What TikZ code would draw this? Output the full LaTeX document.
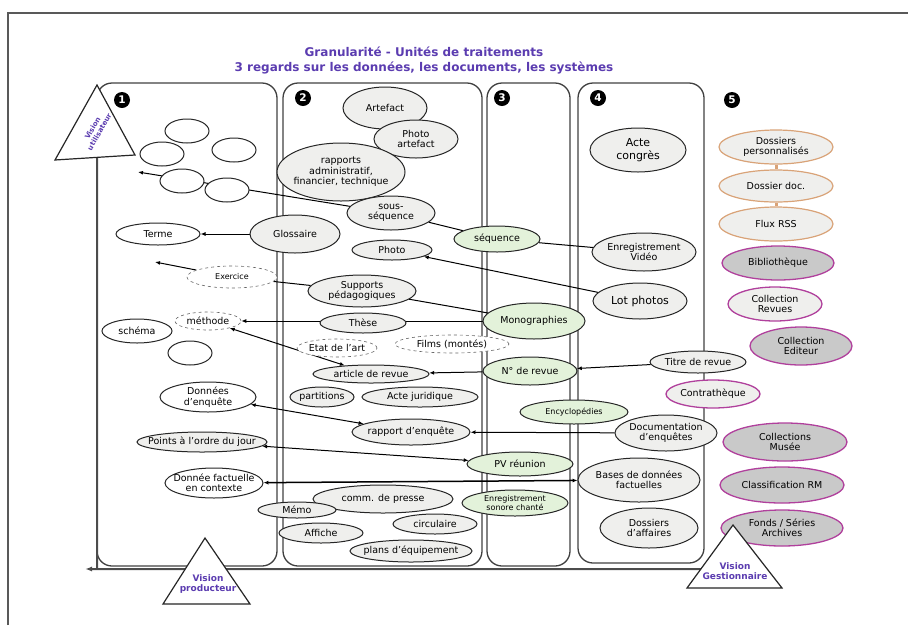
\documentclass[tikz,border=0pt]{standalone}
\usepackage{fontspec}
\setmainfont{DejaVu Sans}
\usetikzlibrary{arrows.meta}
\usetikzlibrary{shapes.geometric}
\pgfdeclarelayer{bg}
\pgfsetlayers{bg,main}
\definecolor{titleviolet}{HTML}{5B3CB0}
\definecolor{docgray}{HTML}{EFEFED}
\definecolor{greenfill}{HTML}{E3F2DA}
\definecolor{orangeline}{HTML}{D9A378}
\definecolor{magline}{HTML}{B0409C}
\definecolor{grayfill}{HTML}{C9C9C9}

\tikzset{
  colbox/.style={draw=black!75, line width=1.3pt, rounded corners=15pt},
  axisline/.style={draw=black!70, line width=2pt},
  tri/.style={draw=black!85, line width=1.2pt, fill=white},
  num/.style={circle, fill=black, text=white, minimum size=16pt, inner sep=0pt, font=\fontsize{10.5}{10.5}\selectfont\bfseries},
  txt/.style={font=\fontsize{9.5}{10.5}\selectfont, align=center, inner sep=0pt},
  vis/.style={font=\fontsize{9}{10}\selectfont\bfseries, text=titleviolet, align=center, inner sep=0pt},
  ttl/.style={font=\fontsize{12}{13}\selectfont\bfseries, text=titleviolet},
  sz/.style 2 args={minimum width=#1pt, minimum height=#2pt},
  lb/.style={label={[txt]center:{#1}}},
  lbbig/.style={label={[txt, font=\fontsize{11}{12.5}\selectfont]center:{#1}}},
  lbsmall/.style={label={[txt, font=\fontsize{8}{9}\selectfont]center:{#1}}},
  el/.style={ellipse, draw=black!85, line width=1pt, fill=docgray, inner sep=0pt},
  blank/.style={el, fill=white},
  dashel/.style={el, fill=white, draw=black!60, dashed, line width=0.6pt},
  grn/.style={el, fill=greenfill},
  orng/.style={el, draw=orangeline, line width=1.2pt},
  mag/.style={el, draw=magline, fill=grayfill, line width=1.3pt},
  magl/.style={mag, fill=docgray},
  conn/.style={draw=black, line width=1pt},
  toarr/.style={-{Latex[length=5pt,width=4pt]}},
  botharr/.style={{Latex[length=5pt,width=4pt]}-{Latex[length=5pt,width=4pt]}},
}

\begin{document}
\begin{tikzpicture}[x=1pt,y=-1pt]
  \useasboundingbox (0,0) rectangle (908,625);

  % frame
  \draw[draw=black!65, line width=1.5pt] (8,625) -- (8,13) -- (908,13);

  \node[ttl] (title1) at (424,52) {Granularité - Unités de traitements};
  \node[ttl] (title2) at (424,68) {3 regards sur les données, les documents, les systèmes};

  % column 1
  \node[blank, sz={44}{24}] (e1) at (187,131) {};
  \node[blank, sz={44}{24}] (e2) at (162,154) {};
  \node[blank, sz={44}{24}] (e3) at (234,150) {};
  \node[blank, sz={44}{24}] (e4) at (182,181) {};
  \node[blank, sz={44}{24}] (e5) at (227,190) {};
  \node[blank, sz={84}{22}, lb={Terme}] (terme) at (158,234) {};
  \node[el, sz={90}{38}, lb={Glossaire}] (gloss) at (295,234) {};
  \node[dashel, sz={90}{22}, lbsmall={Exercice}] (exerc) at (232,277) {};
  \node[dashel, sz={66}{18}, lb={méthode}] (methode) at (208,321) {};
  \node[blank, sz={70}{24}, lb={schéma}] (schema) at (137,331) {};
  \node[blank, sz={44}{24}] (e6) at (190,353) {};
  \node[blank, sz={96}{30}, lb={Données\\d'enquête}] (donenq) at (208,397) {};
  \node[el, sz={130}{20}, lb={Points à l'ordre du jour}] (points) at (202,442) {};
  \node[blank, sz={98}{30}, lb={Donnée factuelle\\en contexte}] (donfact) at (214,483) {};

  % column 2
  \node[el, sz={84}{42}, lb={Artefact}] (artefact) at (385,108) {};
  \node[el, sz={84}{38}, lb={Photo\\artefact}] (photoart) at (416,139) {};
  \node[el, sz={128}{58}, lb={rapports\\administratif,\\financier, technique}] (rapadm) at (341,172) {};
  \node[el, sz={88}{34}, lb={sous-\\séquence}] (sousseq) at (391,213) {};
  \node[el, sz={80}{20}, lb={Photo}] (photo) at (392,250) {};
  \node[el, sz={108}{32}, lb={Supports\\pédagogiques}] (supports) at (362,291) {};
  \node[el, sz={86}{20}, lb={Thèse}] (these) at (363,323) {};
  \node[dashel, sz={80}{18}, lb={Etat de l'art}] (etat) at (337,348) {};
  \node[dashel, sz={114}{18}, lb={Films (montés)}] (films) at (452,344) {};
  \node[el, sz={116}{18}, lb={article de revue}] (article) at (371,374) {};
  \node[el, sz={64}{20}, lb={partitions}] (partitions) at (322,397) {};
  \node[el, sz={116}{20}, lb={Acte juridique}] (actejur) at (420,397) {};
  \node[el, sz={118}{26}, lb={rapport d'enquête}] (rapenq) at (411,432) {};
  \node[el, sz={140}{28}, lb={comm. de presse}] (comm) at (383,499) {};
  \node[el, sz={78}{16}, lb={Mémo}] (memo) at (297,510) {};
  \node[el, sz={84}{20}, lb={circulaire}] (circ) at (435,524) {};
  \node[el, sz={84}{20}, lb={Affiche}] (affiche) at (321,533) {};
  \node[el, sz={122}{22}, lb={plans d'équipement}] (plans) at (411,551) {};

  % column 3
  \node[grn, sz={86}{26}, lb={séquence}] (seq) at (497,239) {};
  \node[grn, sz={102}{36}, lb={Monographies}] (mono) at (534,321) {};
  \node[grn, sz={94}{28}, lb={N° de revue}] (numrev) at (530,371) {};
  \node[grn, sz={108}{24}, lbsmall={Encyclopédies}] (encyc) at (574,412) {};
  \node[grn, sz={106}{24}, lb={PV réunion}] (pv) at (520,464) {};
  \node[grn, sz={106}{26}, lbsmall={Enregistrement\\sonore chanté}] (enrson) at (515,503) {};

  % column 4
  \node[el, sz={96}{44}, lbbig={Acte\\congrès}] (acte) at (638,150) {};
  \node[el, sz={104}{38}, lb={Enregistrement\\Vidéo}] (ev) at (644,252) {};
  \node[el, sz={94}{36}, lbbig={Lot photos}] (lot) at (640,301) {};
  \node[el, sz={96}{22}, lb={Titre de revue}] (titre) at (698,362) {};
  \node[el, sz={102}{36}, lb={Documentation\\d'enquêtes}] (docenq) at (666,433) {};
  \node[el, sz={122}{44}, lb={Bases de données\\factuelles}] (bases) at (639,480) {};
  \node[el, sz={98}{40}, lb={Dossiers\\d'affaires}] (dossaff) at (649,528) {};

  % column 5
  \node[orng, sz={114}{34}, lb={Dossiers\\personnalisés}] (dperso) at (776,147) {};
  \node[orng, sz={114}{32}, lb={Dossier doc.}] (ddoc) at (776,186) {};
  \node[orng, sz={114}{34}, lb={Flux RSS}] (rss) at (776,224) {};
  \node[mag, sz={112}{34}, lb={Bibliothèque}] (biblio) at (778,263) {};
  \node[magl, sz={94}{34}, lb={Collection\\Revues}] (colrev) at (775,304) {};
  \node[mag, sz={102}{38}, lb={Collection\\Editeur}] (coled) at (801,346) {};
  \node[magl, sz={94}{28}, lb={Contrathèque}] (contra) at (713,394) {};
  \node[mag, sz={124}{38}, lb={Collections\\Musée}] (colmus) at (785,442) {};
  \node[mag, sz={124}{36}, lb={Classification RM}] (classrm) at (782,485) {};
  \node[mag, sz={122}{36}, lb={Fonds / Séries\\Archives}] (fonds) at (782,528) {};

  % numbers
  \node[num] (n1) at (122,100) {1};
  \node[num] (n2) at (303,98) {2};
  \node[num] (n3) at (502,98) {3};
  \node[num] (n4) at (598,98) {4};
  \node[num] (n5) at (732,100) {5};

  % visions
  \draw[tri] (97,85) coordinate (ua) -- (55,160) coordinate (ub) -- (135,155) coordinate (uc) -- cycle;
  \node[vis, rotate=60, font=\fontsize{7}{8}\selectfont\bfseries] (visu) at (96,130) {Vision\\utilisateur};
  \draw[tri] (205,538) coordinate (pa) -- (163,604) coordinate (pb) -- (250,604) coordinate (pc) -- cycle;
  \node[vis] (visp) at (208,584) {Vision\\producteur};
  \draw[tri] (733,525) coordinate (ga) -- (687,588) coordinate (gb) -- (782,588) coordinate (gc) -- cycle;
  \node[vis] (visg) at (735,571) {Vision\\Gestionnaire};

  \coordinate (tipa) at (138,172);
  \coordinate (tipb) at (155,262);
  \coordinate (axisend) at (85,569);
  \coordinate (axiscorner) at (97,569);
  \path (ub) -- (uc) coordinate[pos=0.525] (ubase);
  \path (ga) -- (gb) coordinate[pos=0.7] (gside);

  \begin{pgfonlayer}{bg}
    \draw[colbox] (97,83) rectangle (277,566);
    \draw[colbox] (283,83) rectangle (482,566);
    \draw[colbox] (487,83) rectangle (570,566);
    \draw[colbox] (578,83) rectangle (704,563);

    \draw[axisline] (axiscorner) -- (ubase);
    \draw[axisline, -{Latex[length=7pt,width=5pt]}] (gside) -- (axisend);

    \draw[conn] (ev) -- (seq);
    \draw[conn] (seq) -- (sousseq);
    \draw[conn, toarr] (sousseq) -- (tipa);
    \draw[conn, toarr] (gloss) -- (terme);
    \draw[conn, toarr] (lot) -- (photo);
    \draw[conn] (mono) -- (supports);
    \draw[conn] (supports) -- (exerc);
    \draw[conn, toarr] (exerc) -- (tipb);
    \draw[conn, toarr] (mono) -- (methode);
    \draw[conn, botharr] (methode) -- (article);
    \draw[conn, toarr] (numrev) -- (article);
    \draw[conn, toarr] (titre) -- (numrev);
    \draw[conn, botharr] (donenq) -- (rapenq);
    \draw[conn, toarr] (docenq) -- (rapenq);
    \draw[conn, botharr] (points) -- (pv);
    \draw[conn, botharr, line width=1.5pt] (donfact) -- (bases);
    \draw[orangeline, line width=3pt] (dperso) -- (ddoc);
    \draw[orangeline, line width=3pt] (ddoc) -- (rss);
  \end{pgfonlayer}

\end{tikzpicture}
\end{document}
